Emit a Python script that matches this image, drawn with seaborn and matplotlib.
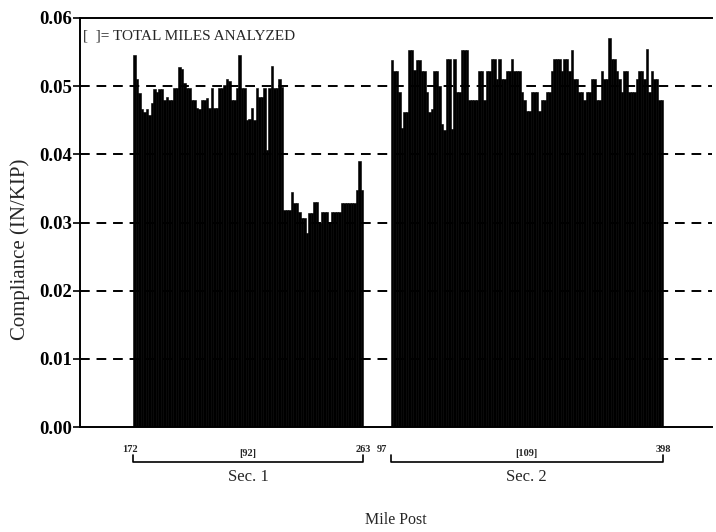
import numpy as np
import pandas as pd
import matplotlib
matplotlib.use("Agg")
import matplotlib.pyplot as plt
import seaborn as sns

# ---------------- data ----------------
# Section 1: mile posts 172 .. 263 (92 miles)
sec1_values = [
    0.0546, 0.0510, 0.0490, 0.0466, 0.0462, 0.0466, 0.0458, 0.0475, 0.0496, 0.0492,
    0.0496, 0.0496, 0.0480, 0.0484, 0.0480, 0.0480, 0.0497, 0.0497, 0.0528, 0.0525,
    0.0505, 0.0497, 0.0497, 0.0480, 0.0480, 0.0468, 0.0466, 0.0480, 0.0480, 0.0482,
    0.0468, 0.0497, 0.0468, 0.0468, 0.0497, 0.0497, 0.0502, 0.0510, 0.0508, 0.0480,
    0.0480, 0.0497, 0.0546, 0.0497, 0.0497, 0.0450, 0.0452, 0.0468, 0.0450, 0.0497,
    0.0484, 0.0484, 0.0497, 0.0406, 0.0497, 0.0530, 0.0497, 0.0497, 0.0510, 0.0499,
    0.0318, 0.0318, 0.0318, 0.0345, 0.0329, 0.0329, 0.0316, 0.0307, 0.0307, 0.0285,
    0.0314, 0.0314, 0.0330, 0.0330, 0.0300, 0.0316, 0.0316, 0.0316, 0.0300, 0.0316,
    0.0316, 0.0316, 0.0316, 0.0329, 0.0329, 0.0329, 0.0329, 0.0329, 0.0329, 0.0348,
    0.0390, 0.0348,
]
# Section 2: 109 miles analyzed
sec2_values = [
    0.0539, 0.0522, 0.0522, 0.0491, 0.0438, 0.0462, 0.0462, 0.0553, 0.0553, 0.0523,
    0.0538, 0.0538, 0.0522, 0.0522, 0.0491, 0.0462, 0.0466, 0.0522, 0.0522, 0.0500,
    0.0445, 0.0435, 0.0540, 0.0540, 0.0437, 0.0540, 0.0491, 0.0491, 0.0553, 0.0553,
    0.0553, 0.0479, 0.0479, 0.0479, 0.0479, 0.0522, 0.0522, 0.0479, 0.0522, 0.0522,
    0.0540, 0.0540, 0.0510, 0.0540, 0.0510, 0.0510, 0.0522, 0.0522, 0.0540, 0.0522,
    0.0522, 0.0522, 0.0491, 0.0479, 0.0464, 0.0464, 0.0491, 0.0491, 0.0491, 0.0464,
    0.0479, 0.0479, 0.0491, 0.0491, 0.0522, 0.0540, 0.0540, 0.0540, 0.0522, 0.0540,
    0.0540, 0.0522, 0.0553, 0.0510, 0.0510, 0.0491, 0.0491, 0.0479, 0.0491, 0.0491,
    0.0510, 0.0510, 0.0479, 0.0479, 0.0522, 0.0510, 0.0510, 0.0571, 0.0540, 0.0540,
    0.0522, 0.0510, 0.0491, 0.0522, 0.0522, 0.0491, 0.0491, 0.0491, 0.0510, 0.0522,
    0.0522, 0.0510, 0.0554, 0.0491, 0.0522, 0.0510, 0.0510, 0.0479, 0.0479,
]
sections = ["Sec. 1", "Sec. 2"]
sec_start_labels = ["172", "97"]
sec_end_labels = ["263", "398"]
sec_miles_labels = ["[92]", "[109]"]
y_ticks = [0.00, 0.01, 0.02, 0.03, 0.04, 0.05, 0.06]
legend_note = "[  ]= TOTAL MILES ANALYZED"

# sequential position along the chart (gap between the two sections)
gap = 11
pos1 = list(range(len(sec1_values)))
pos2 = list(range(len(sec1_values) + gap, len(sec1_values) + gap + len(sec2_values)))
df = pd.DataFrame({
    "pos": pos1 + pos2,
    "compliance": sec1_values + sec2_values,
})

# ---------------- style ----------------
sns.set_style("ticks")
plt.rcParams["font.family"] = ["Liberation Serif", "DejaVu Serif"]

W, H = 716, 532
fig = plt.figure(figsize=(W / 100, H / 100), dpi=100)
ax = fig.add_axes([80 / W, (H - 427) / H, 632 / W, 409 / H])

ax.set_axisbelow(True)
for yv in y_ticks[1:-1]:
    ax.axhline(yv, color="black", lw=1.4, ls=(0, (5, 3.5)), zorder=0)

sns.barplot(data=df, x="pos", y="compliance", native_scale=True, width=1,
            color="black", edgecolor="black", linewidth=0.4, errorbar=None,
            saturation=1, ax=ax, zorder=2)

px_per_unit = 2.5
x_left = -0.5 - (133 - 80) / px_per_unit
x_right = -0.5 + (712 - 133) / px_per_unit
ax.set_xlim(x_left, x_right)
ax.set_ylim(0, 0.06)

ax.set_yticks(y_ticks)
ax.set_yticklabels([f"{v:.2f}" for v in y_ticks], fontsize=13.5, fontweight="bold")
ax.tick_params(axis="y", direction="out", length=5, width=1.2, colors="black", pad=1)
ax.tick_params(axis="x", length=0, labelbottom=False)
ax.set_ylabel("Compliance (IN/KIP)", fontsize=15)
ax.yaxis.set_label_coords(-0.079, 0.435)
ax.set_xlabel("")

for side in ["left", "top", "bottom"]:
    ax.spines[side].set_color("black")
    ax.spines[side].set_linewidth(1.4)
ax.spines["right"].set_visible(False)

ax.text(0.004, 0.955, legend_note, transform=ax.transAxes, fontsize=11,
        va="center", ha="left")

fig.text(396 / W, 1 - 520 / H, "Mile Post", fontsize=11.5, ha="center", va="center")

# section brackets below the axis
trans = ax.get_xaxis_transform()
def fy(ypix):
    return -(ypix - 427) / 409.0

ranges = [(pos1[0] - 0.5, pos1[-1] + 0.5), (pos2[0] - 0.5, pos2[-1] + 0.5)]
for i, (a, b) in enumerate(ranges):
    yb = fy(462)
    ax.plot([a, a, b, b], [fy(455), yb, yb, fy(455)], transform=trans,
            color="black", lw=1.2, clip_on=False)
    mid = (a + b) / 2
    ax.text(a - 1.2, fy(449), sec_start_labels[i], transform=trans, fontsize=7.5,
            fontweight="bold", ha="right" if i == 1 else "center", va="center")
    ax.text(b, fy(449), sec_end_labels[i], transform=trans, fontsize=7.5,
            fontweight="bold", ha="center", va="center")
    ax.text(mid, fy(453), sec_miles_labels[i], transform=trans, fontsize=7.5,
            fontweight="bold", ha="center", va="center")
    ax.text(mid, fy(477), sections[i], transform=trans, fontsize=12,
            ha="center", va="center")

fig.savefig("out.png", dpi=100)
